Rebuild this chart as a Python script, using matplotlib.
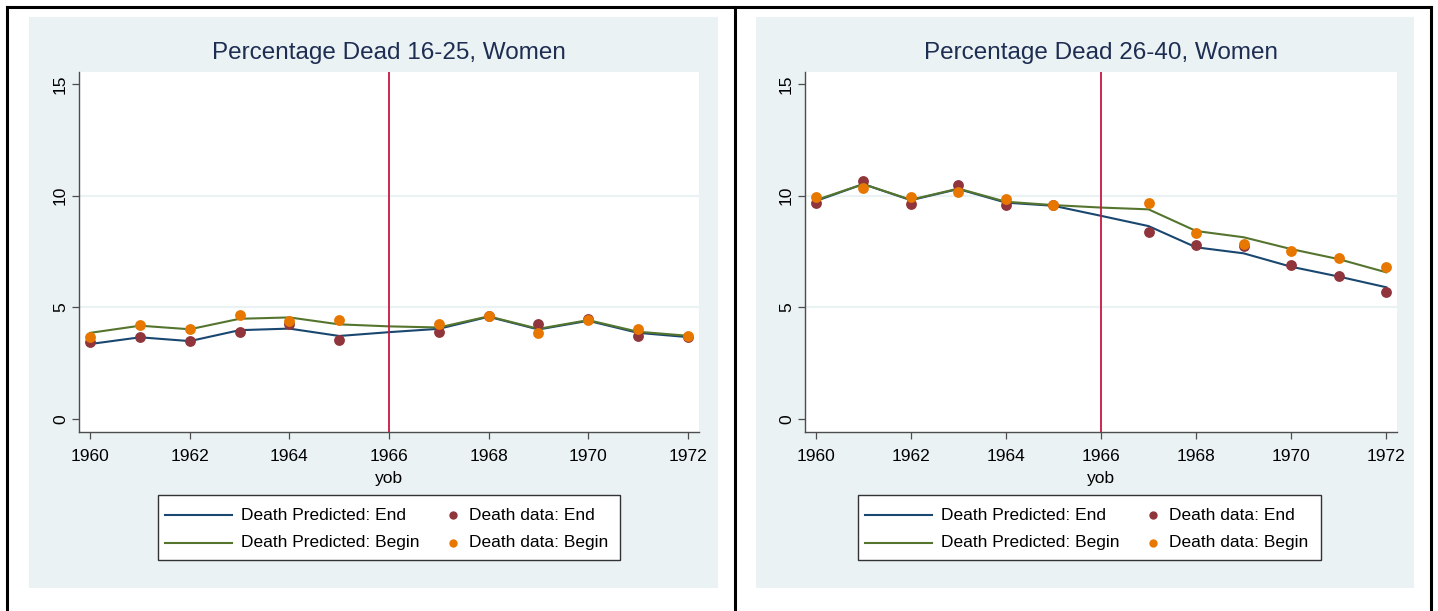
import matplotlib
matplotlib.use("Agg")
import matplotlib.pyplot as plt
from matplotlib.patches import Rectangle
from matplotlib.lines import Line2D

plt.rcParams['font.family'] = ['Liberation Sans', 'DejaVu Sans']

years = [1960, 1961, 1962, 1963, 1964, 1965, 1966, 1967, 1968, 1969, 1970, 1971, 1972]
data_years = [1960, 1961, 1962, 1963, 1964, 1965, 1967, 1968, 1969, 1970, 1971, 1972]

# Panel 1: 16-25
p1_pred_end = [3.36, 3.66, 3.49, 3.98, 4.05, 3.72, 3.89, 4.04, 4.58, 4.01, 4.40, 3.86, 3.67]
p1_pred_begin = [3.86, 4.18, 4.02, 4.49, 4.55, 4.24, 4.15, 4.10, 4.60, 4.04, 4.43, 3.91, 3.73]
p1_data_end = [3.46, 3.66, 3.51, 3.88, 4.24, 3.54, 3.91, 4.61, 4.24, 4.47, 3.73, 3.69]
p1_data_begin = [3.69, 4.21, 4.03, 4.64, 4.39, 4.45, 4.27, 4.61, 3.84, 4.43, 4.03, 3.73]

# Panel 2: 26-40
p2_pred_end = [9.76, 10.52, 9.80, 10.30, 9.69, 9.55, 9.10, 8.64, 7.69, 7.42, 6.82, 6.38, 5.90]
p2_pred_begin = [9.80, 10.52, 9.82, 10.32, 9.73, 9.58, 9.47, 9.39, 8.42, 8.14, 7.61, 7.16, 6.57]
p2_data_end = [9.66, 10.67, 9.63, 10.48, 9.58, 9.57, 8.39, 7.79, 7.75, 6.91, 6.40, 5.67]
p2_data_begin = [9.93, 10.36, 9.96, 10.18, 9.84, 9.58, 9.66, 8.31, 7.84, 7.52, 7.19, 6.79]

titles = ["Percentage Dead 16-25, Women", "Percentage Dead 26-40, Women"]
legend_labels = ["Death Predicted: End", "Death Predicted: Begin", "Death data: End", "Death data: Begin"]
xticks = [1960, 1962, 1964, 1966, 1968, 1970, 1972]
yticks = [0, 5, 10, 15]
cutoff = 1966

W, H = 1438, 611
fig = plt.figure(figsize=(W / 100, H / 100), dpi=100)
fig.patch.set_facecolor('white')

BG = '#eaf2f3'
NAVY = '#1a476f'
GREEN = '#55752f'
MAROON = '#90353b'
ORANGE = '#e87700'
RED = '#c8173f'
TITLE_C = '#1e2d52'
AX_C = '#4d4d4d'


def fx(x):
    return x / W


def fy(y):
    return 1 - y / H


def rect(x0, y0, x1, y1, **kw):
    fig.add_artist(Rectangle((fx(x0), fy(y1)), fx(x1) - fx(x0), fy(y0) - fy(y1),
                             transform=fig.transFigure, **kw))


def fline(xa, ya, xb, yb, **kw):
    fig.add_artist(Line2D([fx(xa), fx(xb)], [fy(ya), fy(yb)], transform=fig.transFigure, **kw))


# outer frame and divider
for (xa, ya, xb, yb) in [(7, 7, 1431, 7), (7, 7, 7, 611), (1431, 7, 1431, 611), (735, 7, 735, 611)]:
    fline(xa, ya, xb, yb, color='black', lw=2.2, solid_capstyle='projecting', zorder=5)

panels = [
    dict(bg=(29, 17, 718, 588), ax=(79, 72, 699, 432), leg=(158, 495, 620, 560),
         pe=p1_pred_end, pb=p1_pred_begin, de=p1_data_end, db=p1_data_begin, title=titles[0]),
    dict(bg=(756, 17, 1414, 588), ax=(805, 72, 1397, 432), leg=(858, 495, 1321, 560),
         pe=p2_pred_end, pb=p2_pred_begin, de=p2_data_end, db=p2_data_begin, title=titles[1]),
]

for p in panels:
    bx0, by0, bx1, by1 = p['bg']
    rect(bx0, by0, bx1, by1, facecolor=BG, edgecolor='none', zorder=-5)
    ax0, ay0, ax1, ay1 = p['ax']
    ax = fig.add_axes([fx(ax0), fy(ay1), fx(ax1) - fx(ax0), fy(ay0) - fy(ay1)], zorder=1)
    ax.set_facecolor('white')
    ax.set_xlim(1959.775, 1972.225)
    ax.set_ylim(-0.58, 15.54)
    for yv in [5, 10]:
        ax.axhline(yv, color=BG, lw=1.6, zorder=0.5)
    ax.plot(years, p['pe'], color=NAVY, lw=1.5, zorder=2)
    ax.plot(years, p['pb'], color=GREEN, lw=1.5, zorder=2)
    ax.axvline(cutoff, color=RED, lw=1.3, zorder=2.5)
    ax.plot(data_years, p['de'], 'o', color=MAROON, ms=7.8, mec='none', zorder=3)
    ax.plot(data_years, p['db'], 'o', color=ORANGE, ms=7.8, mec='none', zorder=4)

    for s in ['top', 'right']:
        ax.spines[s].set_visible(False)
    for s in ['left', 'bottom']:
        ax.spines[s].set_color(AX_C)
        ax.spines[s].set_linewidth(1.0)
    ax.set_xticks(xticks)
    ax.set_yticks(yticks)
    ax.tick_params(axis='both', direction='out', length=5, width=0.9, color=AX_C,
                   labelsize=12.5, labelcolor='black')
    ax.tick_params(axis='x', pad=7)
    ax.tick_params(axis='y', pad=3)
    for lab in ax.get_yticklabels():
        lab.set_rotation(90)
        lab.set_va('center')
    ax.set_xlabel('yob', fontsize=12.5, labelpad=5)

    fig.text(fx((ax0 + ax1) / 2), fy(53), p['title'], ha='center', va='center',
             fontsize=17.5, color=TITLE_C)

    # manual legend
    lx0, ly0, lx1, ly1 = p['leg']
    rect(lx0, ly0, lx1, ly1, facecolor='white', edgecolor='#333333', lw=1.0, zorder=2)
    off = lx0 - 158
    rows = [515, 543]
    line_colors = [NAVY, GREEN]
    dot_colors = [MAROON, ORANGE]
    for i, ry in enumerate(rows):
        fline(165 + off, ry, 232 + off, ry, color=line_colors[i], lw=1.5, zorder=3)
        fig.text(fx(241 + off), fy(ry), legend_labels[i], ha='left', va='center',
                 fontsize=12.5, zorder=3)
        fig.add_artist(Line2D([fx(453 + off)], [fy(ry)], transform=fig.transFigure,
                              marker='o', ms=6, color=dot_colors[i], mec='none', ls='none', zorder=3))
        fig.text(fx(469 + off), fy(ry), legend_labels[i + 2], ha='left', va='center',
                 fontsize=12.5, zorder=3)

fig.savefig('out.png', dpi=100, facecolor='white')
